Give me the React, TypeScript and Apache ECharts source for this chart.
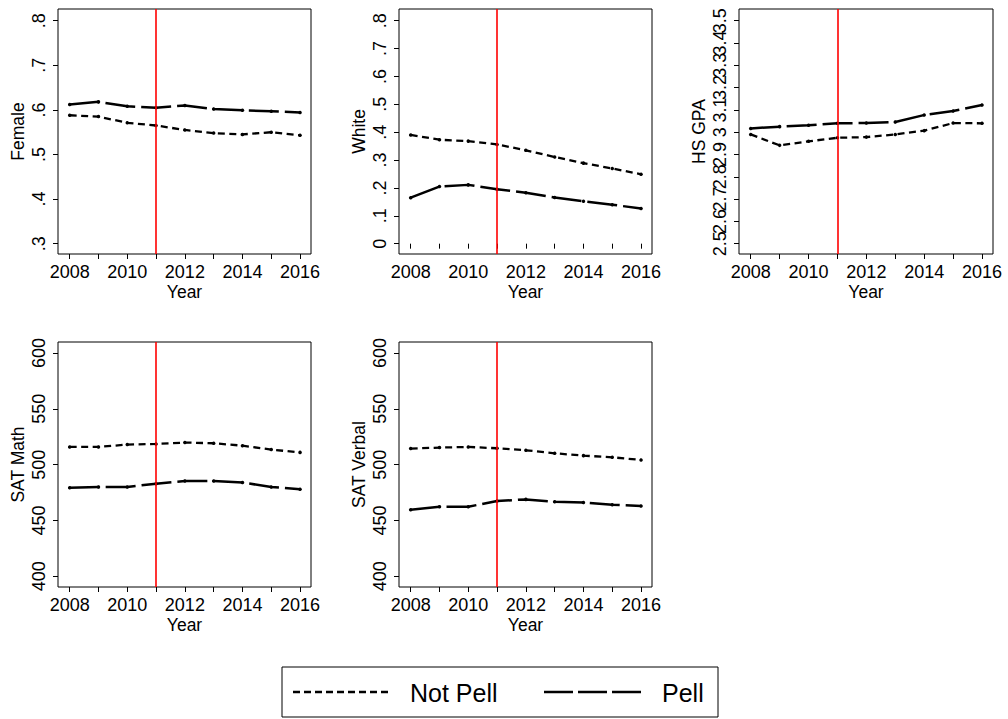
import React, { useEffect, useRef } from "react";
import * as echarts from "echarts";

const years = [2008, 2009, 2010, 2011, 2012, 2013, 2014, 2015, 2016];
const yearTicks = [2008, 2009, 2010, 2011, 2012, 2013, 2014, 2015, 2016];
const yearLabels = [2008, 2010, 2012, 2014, 2016];
const policyYear = 2011;

const femaleNotPell = [0.588, 0.585, 0.571, 0.565, 0.555, 0.548, 0.545, 0.55, 0.543];
const femalePell = [0.612, 0.618, 0.608, 0.605, 0.61, 0.602, 0.599, 0.597, 0.594];
const femaleTicks = [0.3, 0.4, 0.5, 0.6, 0.7, 0.8];

const whiteNotPell = [0.39, 0.373, 0.368, 0.356, 0.335, 0.311, 0.289, 0.27, 0.249];
const whitePell = [0.165, 0.205, 0.211, 0.195, 0.183, 0.166, 0.152, 0.14, 0.126];
const whiteTicks = [0, 0.1, 0.2, 0.3, 0.4, 0.5, 0.6, 0.7, 0.8];

const gpaNotPell = [2.99, 2.941, 2.959, 2.975, 2.978, 2.99, 3.007, 3.041, 3.04];
const gpaPell = [3.017, 3.025, 3.031, 3.04, 3.041, 3.046, 3.077, 3.095, 3.122];
const gpaTicks = [2.5, 2.6, 2.7, 2.8, 2.9, 3.0, 3.1, 3.2, 3.3, 3.4, 3.5];
const gpaLabelsA = [2.5, 2.7, 2.9, 3.1, 3.3, 3.5];
const gpaLabelsB = [2.6, 2.8, 3.0, 3.2, 3.4];

const mathNotPell = [515.9, 515.9, 518, 518.6, 519.8, 519.2, 517, 513.5, 511];
const mathPell = [479.3, 480, 480, 483, 485.3, 485.3, 484, 480, 478];
const satTicks = [400, 450, 500, 550, 600];

const verbalNotPell = [514.4, 515.3, 515.9, 514.7, 512.9, 510.2, 508.1, 506.6, 504.2];
const verbalPell = [459.6, 462.3, 462.3, 467.4, 468.9, 466.8, 466.2, 464.1, 462.9];

const seriesNames = ["Not Pell", "Pell"];

const FONT = "Liberation Sans, Arial, Helvetica, sans-serif";

function fmtDecimal(v: number) {
  const r = Math.round(v * 10) / 10;
  if (r === 0) return "0";
  const s = String(r);
  return s.startsWith("0.") ? s.slice(1) : s;
}

export default function App() {
  const ref = useRef<HTMLDivElement>(null);

  useEffect(() => {
    if (!ref.current) return;
    const chart = echarts.init(ref.current, undefined, { renderer: "svg" });

    const panels = [
      { title: "Female", np: femaleNotPell, p: femalePell, ticks: femaleTicks, labels: femaleTicks, min: 0.2769, max: 0.8262, fmt: fmtDecimal, left: 58, top: 9, width: 253 },
      { title: "White", np: whiteNotPell, p: whitePell, ticks: whiteTicks, labels: whiteTicks, min: -0.037, max: 0.842, fmt: fmtDecimal, left: 399, top: 9, width: 253 },
      { title: "HS GPA", np: gpaNotPell, p: gpaPell, ticks: gpaTicks, labels: gpaLabelsA, min: 2.4538, max: 3.5525, fmt: fmtDecimal, left: 739, top: 9, width: 254 },
      { title: "SAT Math", np: mathNotPell, p: mathPell, ticks: satTicks, labels: satTicks, min: 390.4, max: 609.9, fmt: (v: number) => String(Math.round(v)), left: 58, top: 342, width: 253 },
      { title: "SAT Verbal", np: verbalNotPell, p: verbalPell, ticks: satTicks, labels: satTicks, min: 390.4, max: 609.9, fmt: (v: number) => String(Math.round(v)), left: 399, top: 342, width: 253 },
    ];

    const grid: any[] = [];
    const xAxis: any[] = [];
    const yAxis: any[] = [];
    const series: any[] = [];

    const yLabelStyle = (values: number[], fmt: (v: number) => string) => ({
      show: true,
      rotate: 90,
      margin: 10,
      color: "#000",
      fontSize: 18,
      fontFamily: FONT,
      customValues: values,
      showMinLabel: true,
      showMaxLabel: true,
      hideOverlap: false,
      formatter: fmt,
    });

    panels.forEach((pn, i) => {
      grid.push({
        left: pn.left,
        top: pn.top,
        width: pn.width,
        height: 245,
        show: true,
        borderColor: "#000",
        borderWidth: 1,
        backgroundColor: "#fff",
        containLabel: false,
        outerBoundsMode: "none",
      });
      xAxis.push({
        type: "value",
        gridIndex: i,
        min: 2007.595,
        max: 2016.38,
        name: "Year",
        nameLocation: "middle",
        nameGap: 29,
        nameTextStyle: { color: "#000", fontSize: 17.5, fontFamily: FONT },
        axisLine: { show: false },
        splitLine: { show: false },
        axisTick: { show: true, inside: false, length: 5, lineStyle: { color: "#000", width: 1 }, customValues: yearTicks },
        axisLabel: { show: true, margin: 9, color: "#000", fontSize: 18, fontFamily: FONT, customValues: yearLabels, showMinLabel: true, showMaxLabel: true, hideOverlap: false, formatter: (v: number) => String(v) },
      });
      yAxis.push({
        type: "value",
        gridIndex: i,
        position: "left",
        min: pn.min,
        max: pn.max,
        name: pn.title,
        nameLocation: "middle",
        nameGap: 31,
        nameTextStyle: { color: "#000", fontSize: 17.5, fontFamily: FONT },
        axisLine: { show: false },
        splitLine: { show: false },
        axisTick: { show: true, inside: false, length: 5, lineStyle: { color: "#000", width: 1 }, customValues: pn.ticks },
        axisLabel: yLabelStyle(pn.labels, pn.fmt),
      });
      series.push({
        type: "line",
        name: seriesNames[0],
        xAxisIndex: i,
        yAxisIndex: i,
        data: years.map((y, k) => [y, pn.np[k]]),
        symbol: "circle",
        symbolSize: 3.5,
        itemStyle: { color: "#000" },
        lineStyle: { color: "#000", width: 2.3, type: [7, 4.5] },
        markLine: {
          silent: true,
          symbol: "none",
          label: { show: false },
          lineStyle: { color: "#ff0000", width: 1.6, type: "solid" },
          data: [{ xAxis: policyYear }],
        },
        z: 3,
      });
      series.push({
        type: "line",
        name: seriesNames[1],
        xAxisIndex: i,
        yAxisIndex: i,
        data: years.map((y, k) => [y, pn.p[k]]),
        symbol: "circle",
        symbolSize: 3.5,
        itemStyle: { color: "#000" },
        lineStyle: { color: "#000", width: 2.5, type: [30, 6] },
        z: 3,
      });
    });

    // second label layer for the HS GPA axis (labels in between)
    yAxis.push({
      type: "value",
      gridIndex: 2,
      position: "left",
      offset: 0,
      min: panels[2].min,
      max: panels[2].max,
      axisLine: { show: false },
      splitLine: { show: false },
      axisTick: { show: false },
      axisLabel: yLabelStyle(gpaLabelsB, fmtDecimal),
    });

    const option: any = {
      animation: false,
      backgroundColor: "#fff",
      textStyle: { fontFamily: FONT },
      grid,
      xAxis,
      yAxis,
      series,
      graphic: [
        { type: "rect", shape: { x: 282, y: 667, width: 436, height: 50 }, style: { fill: "#fff", stroke: "#000", lineWidth: 1 } },
        { type: "line", shape: { x1: 293, y1: 692, x2: 388, y2: 692 }, style: { stroke: "#000", lineWidth: 2.3, lineDash: [7, 4] } },
        { type: "text", x: 410, y: 693, style: { text: seriesNames[0], fill: "#000", fontSize: 25, fontFamily: FONT, verticalAlign: "middle" } },
        { type: "line", shape: { x1: 544, y1: 692, x2: 642, y2: 692 }, style: { stroke: "#000", lineWidth: 2.5, lineDash: [29, 5] } },
        { type: "text", x: 662, y: 693, style: { text: seriesNames[1], fill: "#000", fontSize: 25, fontFamily: FONT, verticalAlign: "middle" } },
      ],
    };

    chart.setOption(option);
    return () => chart.dispose();
  }, []);

  return (
    <div
      ref={ref}
      style={{ position: "fixed", left: 0, top: 0, width: 1008, height: 719, background: "#fff" }}
    />
  );
}
